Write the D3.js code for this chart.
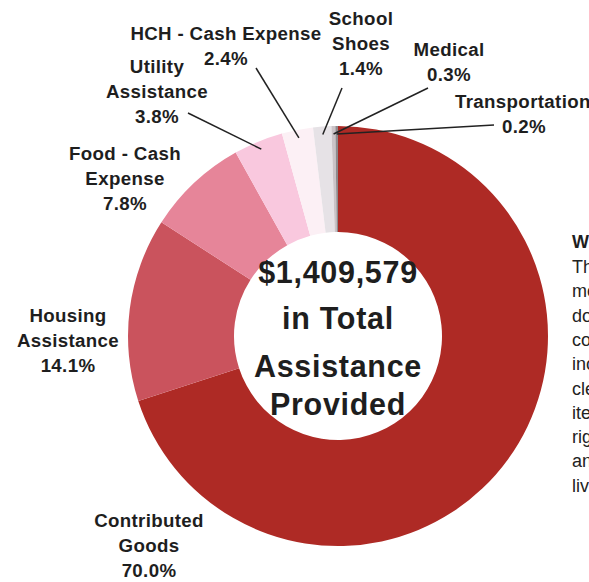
<!DOCTYPE html>
<html>
<head>
<meta charset="utf-8">
<script src="https://cdn.jsdelivr.net/npm/d3@7"></script>
<style>
  body { margin: 0; background: #fff; overflow: hidden; }
  svg { display: block; }
  text { font-family: "Liberation Sans", Arial, sans-serif; fill: #1e1e1e; }
</style>
</head>
<body>
<div id="chart"></div>
<script>

// assistance categories, share of total in percent (clockwise from 12 o'clock)
var categories = ['Contributed Goods', 'Housing Assistance', 'Food - Cash Expense', 'Utility Assistance',
                  'HCH - Cash Expense', 'School Shoes', 'Medical', 'Transportation']
var shares = [70.0, 14.1, 7.8, 3.8, 2.4, 1.4, 0.3, 0.2]
var colors = ['#ae2a25', '#ca535d', '#e68599', '#f9c8de', '#fcf0f5', '#e6e2e6', '#cbc3c7', '#8f8a8d']

var centerLines = ['$1,409,579', 'in Total', 'Assistance', 'Provided']

// label layout: how each name wraps, where the first line sits, and whether it gets a leader line
var labelLines = [['Contributed', 'Goods'], ['Housing', 'Assistance'], ['Food - Cash', 'Expense'], ['Utility', 'Assistance'],
                  ['HCH - Cash Expense'], ['School', 'Shoes'], ['Medical'], ['Transportation']]
var labelPos = [[149, 527], [68, 322], [125, 160], [157, 73], [226, 40], [361, 25], [449, 56], [455, 108]]
var labelAnchor = ['middle', 'middle', 'middle', 'middle', 'middle', 'middle', 'middle', 'start']
var pctPos = [null, null, null, null, null, null, null, [524, 133]]
var leaderEnd = [null, null, null, [188, 113], [256, 68], [342, 88], [428, 88], [494, 125]]

// side paragraph, cut off by the right edge of the page
var sideTitle = 'What We Provide'
var sideLines = ['The', 'most', 'donated', 'contributed', 'include', 'clean', 'items', 'right', 'and', 'lives']

var width = 589, height = 582
var cx = 338, cy = 336, outerR = 210, innerR = 104

var svg = d3.select('#chart')
    .append('svg')
        .attr('width', width)
        .attr('height', height)

var pie = d3.pie().sort(null).value(function(d) { return d })
var arcs = pie(shares)

var arc = d3.arc().innerRadius(innerR).outerRadius(outerR)
var edgeArc = d3.arc().innerRadius(202).outerRadius(202)

var g = svg.append('g').attr('transform', 'translate(' + cx + ',' + cy + ')')

g.selectAll('path')
    .data(arcs)
    .enter()
    .append('path')
    .attr('d', arc)
    .style('fill', function(d, i) { return colors[i] })

// center text
svg.selectAll('text.center')
    .data(centerLines)
    .enter()
    .append('text')
    .attr('class', 'center')
    .attr('x', cx)
    .attr('y', function(d, i) { return [283, 329, 377, 415][i] })
    .attr('text-anchor', 'middle')
    .style('font-size', '30.5px')
    .style('font-weight', 'bold')
    .style('letter-spacing', '0.7px')
    .text(function(d) { return d })

// leader lines
arcs.forEach(function(d, i) {
    if (!leaderEnd[i]) return
    var p = edgeArc.centroid(d)
    svg.append('line')
        .attr('x1', leaderEnd[i][0])
        .attr('y1', leaderEnd[i][1])
        .attr('x2', cx + p[0])
        .attr('y2', cy + p[1])
        .style('stroke', '#222')
        .style('stroke-width', 1.5)
})

// category labels
var fmt = d3.format('.1f')
categories.forEach(function(name, i) {
    var lines = labelLines[i].slice()
    var pos = labelPos[i]
    var t = svg.append('text')
        .attr('text-anchor', labelAnchor[i])
        .style('font-size', '18.7px')
        .style('font-weight', 'bold')
        .style('letter-spacing', '0.35px')
    lines.forEach(function(l, j) {
        t.append('tspan').attr('x', pos[0]).attr('y', pos[1] + j * 25).text(l)
    })
    var pp = pctPos[i] || [pos[0], pos[1] + lines.length * 25]
    svg.append('text')
        .attr('x', pp[0])
        .attr('y', pp[1])
        .attr('text-anchor', 'middle')
        .style('font-size', '18.7px')
        .style('font-weight', 'bold')
        .style('letter-spacing', '0.35px')
        .text(fmt(shares[i]) + '%')
})

// side paragraph
svg.append('text')
    .attr('x', 572)
    .attr('y', 248)
    .style('font-size', '18px')
    .style('font-weight', 'bold')
    .text(sideTitle)

svg.selectAll('text.side')
    .data(sideLines)
    .enter()
    .append('text')
    .attr('class', 'side')
    .attr('x', 572)
    .attr('y', function(d, i) { return 273 + i * 24.3 })
    .style('font-size', '18px')
    .style('fill', '#222')
    .text(function(d) { return d })

</script>
</body>
</html>
